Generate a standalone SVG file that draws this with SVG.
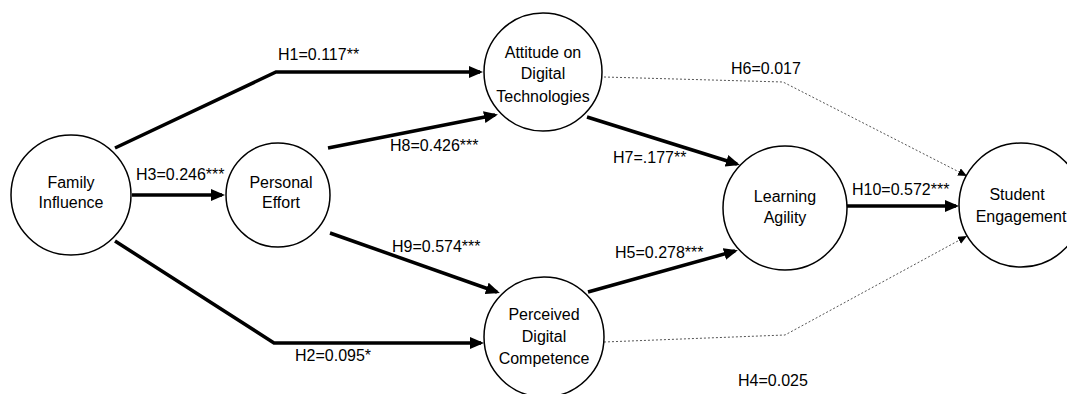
<svg xmlns="http://www.w3.org/2000/svg" width="1067" height="394" viewBox="0 0 1067 394">
<style>
.node{fill:#fff;stroke:#000;stroke-width:1.5}
text{font-family:"Liberation Sans",Arial,sans-serif;font-size:16px;fill:#000}
.nt{text-anchor:middle}
.thick{fill:none;stroke:#000;stroke-width:3.5;marker-end:url(#ah)}
.dot{fill:none;stroke:#555;stroke-width:1;stroke-dasharray:2,2;marker-end:url(#ahs)}
</style>
<defs>
<marker id="ah" markerUnits="userSpaceOnUse" markerWidth="14" markerHeight="12" refX="11" refY="6" orient="auto">
<path d="M0,0 L14,6 L0,12 z" fill="#000"/>
</marker>
<marker id="ahs" markerUnits="userSpaceOnUse" markerWidth="9" markerHeight="8" refX="9" refY="4" orient="auto">
<path d="M0,0 L9,4 L0,8 z" fill="#000"/>
</marker>
</defs>
<rect width="1067" height="394" fill="#fff"/>
<g id="connectors">
<path class="thick" d="M115,148 L276,72 L480,72"/>
<path class="thick" d="M115,241 L274,343 L481,343"/>
<path class="thick" d="M132,195 L222,195"/>
<path class="thick" d="M328,148 L495,115"/>
<path class="thick" d="M330,233 L497,292"/>
<path class="thick" d="M588,292 L735,251"/>
<path class="thick" d="M587,117 L737,164"/>
<path class="thick" d="M847,206 L956,206"/>
<path class="dot" d="M604,77 L783,82 L967,176"/>
<path class="dot" d="M604,342 L785,335 L967,236"/>
<text x="278" y="60">H1=0.117**</text>
<text x="390" y="151">H8=0.426***</text>
<text x="136" y="180">H3=0.246***</text>
<text x="392" y="252">H9=0.574***</text>
<text x="295" y="361">H2=0.095*</text>
<text x="615" y="258">H5=0.278***</text>
<text x="613" y="163">H7=.177**</text>
<text x="852" y="195">H10=0.572***</text>
<text x="731" y="74">H6=0.017</text>
<text x="738" y="386">H4=0.025</text>
</g>
<g id="family">
<circle class="node" cx="71" cy="195" r="60"/>
<text class="nt" x="71" y="188">Family</text>
<text class="nt" x="71" y="208">Influence</text>
</g>
<g id="effort">
<circle class="node" cx="278" cy="195" r="52"/>
<text class="nt" x="281" y="188">Personal</text>
<text class="nt" x="281" y="208">Effort</text>
</g>
<g id="attitude">
<circle class="node" cx="543" cy="72" r="59"/>
<text class="nt" x="543" y="58">Attitude on</text>
<text class="nt" x="543" y="79">Digital</text>
<text class="nt" x="543" y="102">Technologies</text>
</g>
<g id="competence">
<circle class="node" cx="544" cy="337" r="60"/>
<text class="nt" x="544" y="320">Perceived</text>
<text class="nt" x="544" y="342">Digital</text>
<text class="nt" x="544" y="364">Competence</text>
</g>
<g id="agility">
<circle class="node" cx="785" cy="208" r="62"/>
<text class="nt" x="785" y="202">Learning</text>
<text class="nt" x="785" y="223">Agility</text>
</g>
<g id="engagement">
<circle class="node" cx="1021" cy="205" r="62"/>
<text class="nt" x="1017" y="200">Student</text>
<text class="nt" x="1021" y="222">Engagement</text>
</g>
</svg>
